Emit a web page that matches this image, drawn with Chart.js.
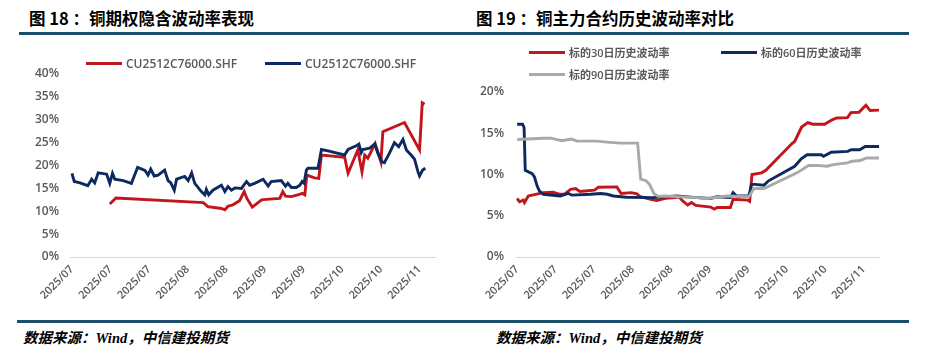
<!DOCTYPE html>
<html>
<head>
<meta charset="utf-8">
<script src="https://cdn.jsdelivr.net/npm/chart.js@4.4.0/dist/chart.umd.min.js"></script>
<style>
    body { margin: 0; width: 928px; height: 359px; background: #fff; position: relative; overflow: hidden; }
    .title { position: absolute; top: 7px; font: bold 16.5px "Noto Sans CJK SC", sans-serif; color: #000; white-space: pre; line-height: 22px; }
    .rule { position: absolute; height: 3px; background: #1d4f6e; }
    .source { position: absolute; top: 327px; font: italic bold 14.5px "Noto Sans CJK SC", sans-serif; color: #000; white-space: nowrap; line-height: 20px; }
    .source .en { font-family: "Liberation Serif", serif; }
    canvas { position: absolute; top: 0; }
    .legend { position: absolute; display: grid; font: 600 12px "Open Sans", "Noto Sans CJK SC", sans-serif; color: #595959; z-index: 2; }
    .legend .item { display: flex; align-items: center; white-space: nowrap; height: 22px; }
    .legend .swatch { display: inline-block; width: 36px; height: 3px; margin-right: 4px; }
</style>
</head>
<body>
<div class="title" style="left:29px">图 18 ：铜期权隐含波动率表现</div>
<div class="title" style="left:476px">图 19 ：铜主力合约历史波动率对比</div>
<div class="rule" style="left:19px;width:445px;top:32px"></div>
<div class="rule" style="left:464px;width:445px;top:32px"></div>

<canvas id="iv-chart" width="464" height="318" style="left:0"></canvas>
<canvas id="hv-chart" width="464" height="318" style="left:464px"></canvas>
<div id="iv-legend" class="legend" style="left:86px;top:52px;grid-template-columns:179px auto"></div>
<div id="hv-legend" class="legend" style="left:529px;top:41px;grid-template-columns:192px auto;font-size:11px"></div>

<div class="rule" style="left:17px;width:447px;top:320px"></div>
<div class="rule" style="left:464px;width:445px;top:320px"></div>
<div class="source" style="left:23px">数据来源：<span class="en">Wind</span>，中信建投期货</div>
<div class="source" style="left:496px">数据来源：<span class="en">Wind</span>，中信建投期货</div>

<script>
const tickLabels = ['2025/07', '2025/07', '2025/07', '2025/08', '2025/08', '2025/09', '2025/09', '2025/10', '2025/10', '2025/11'];

// 图18 implied volatility (%), x = trading day index
const ivRedLabel = 'CU2512C76000.SHF';
const ivRedDays = [9.8, 11.4, 34.0, 35.2, 38.7, 39.6, 40.4, 41.7, 43.4, 44.6, 45.3, 46.7, 49.1, 50.3, 53.8, 54.6, 55.3, 56.8, 58.5, 59.7, 60.3, 60.8, 62.8, 63.9, 64.6, 70.6, 71.5, 74.0, 75.1, 75.8, 76.6, 78.5, 80.0, 80.5, 86.1, 90.0, 90.7, 91.3];
const ivRedVals = [11.6, 12.9, 11.9, 11.0, 10.6, 10.3, 11.1, 11.4, 12.3, 14.3, 12.8, 10.9, 12.5, 12.6, 12.8, 14.3, 13.3, 13.2, 13.6, 13.9, 13.6, 17.9, 17.3, 17.2, 22.3, 21.8, 18.3, 23.4, 18.6, 22.3, 21.6, 24.8, 20.8, 27.4, 29.4, 23.4, 33.7, 33.4];

const ivBlueLabel = 'CU2512C76000.SHF';
const ivBlueDays = [0, 0.6, 2.1, 4.1, 5.1, 5.9, 6.8, 9.0, 9.8, 10.5, 11.1, 13.3, 15.4, 17.0, 18.9, 19.7, 20.4, 21.3, 22.3, 24.0, 24.9, 25.6, 26.5, 27.1, 29.2, 30.1, 31.0, 31.8, 33.5, 34.4, 34.8, 35.4, 36.5, 38.7, 39.6, 40.4, 41.3, 42.2, 43.9, 45.2, 46.0, 47.3, 49.5, 50.8, 51.6, 54.2, 55.3, 55.9, 56.8, 58.1, 59.0, 59.6, 60.1, 60.7, 61.1, 63.7, 64.6, 66.3, 70.6, 71.5, 73.6, 74.3, 74.9, 75.3, 77.1, 78.4, 79.2, 80.3, 80.9, 82.2, 83.5, 84.6, 85.7, 86.6, 87.8, 88.7, 89.6, 90.0, 90.8, 91.5];
const ivBlueVals = [18.3, 16.5, 16.2, 15.6, 17.0, 16.2, 18.4, 18.1, 16.1, 18.3, 17.0, 16.7, 16.1, 19.6, 18.9, 17.9, 19.2, 17.7, 17.9, 19.0, 16.7, 16.2, 14.6, 17.0, 17.6, 16.7, 18.4, 16.1, 14.3, 13.6, 14.8, 13.6, 14.6, 15.7, 14.3, 15.4, 14.6, 15.1, 15.0, 16.5, 15.7, 16.1, 17.0, 15.5, 16.5, 16.7, 15.5, 16.1, 15.2, 15.2, 15.7, 16.5, 16.1, 19.0, 19.4, 19.4, 23.5, 23.2, 22.3, 23.5, 24.3, 24.7, 22.8, 23.5, 23.8, 24.7, 22.7, 20.8, 20.6, 22.7, 25.0, 24.1, 25.7, 23.4, 22.3, 21.4, 18.6, 17.7, 19.0, 19.4];

// 图19 historical volatility (%)
const hv30Label = '标的30日历史波动率';
const hv30Days = [0, 0.6, 1.6, 1.9, 2.9, 4.8, 6.8, 9.3, 11.2, 12.2, 13.9, 15.2, 16.3, 20.1, 21.1, 25.9, 27.0, 29.6, 31.1, 32.0, 35.0, 36.3, 38.5, 41.1, 42.0, 43.0, 44.3, 45.3, 46.4, 50.3, 51.2, 52.0, 55.4, 56.1, 59.8, 60.4, 61.0, 63.5, 64.6, 71.4, 72.1, 73.9, 75.5, 76.8, 79.9, 81.7, 83.0, 85.8, 86.7, 88.8, 90.6, 91.7, 94.0];
const hv30Vals = [7.1, 6.7, 6.9, 6.6, 7.4, 7.6, 7.8, 7.85, 7.6, 7.6, 8.2, 8.3, 7.95, 8.1, 8.45, 8.5, 7.7, 7.8, 7.65, 7.3, 6.95, 6.85, 7.1, 7.2, 7.3, 6.8, 6.3, 6.6, 6.25, 6.05, 5.8, 6.0, 6.0, 7.0, 6.9, 6.75, 10.0, 10.2, 10.5, 13.75, 14.0, 15.75, 16.3, 16.1, 16.1, 16.6, 16.85, 16.9, 17.5, 17.55, 18.4, 17.75, 17.8];

const hv60Label = '标的60日历史波动率';
const hv60Days = [0, 1.4, 1.8, 2.1, 3.9, 4.5, 5.2, 5.8, 6.8, 11.2, 13.3, 14.2, 19.1, 21.7, 23.4, 25.0, 28.4, 35.3, 41.4, 46.8, 50.2, 51.9, 55.4, 56.1, 57.0, 60.2, 60.9, 61.7, 64.1, 65.2, 72.1, 73.8, 75.3, 79.0, 79.6, 81.6, 85.9, 86.8, 89.0, 90.4, 94.0];
const hv60Vals = [16.1, 16.1, 15.7, 10.5, 10.1, 9.7, 8.6, 8.0, 7.6, 7.4, 7.7, 7.5, 7.6, 7.7, 7.6, 7.4, 7.25, 7.2, 7.4, 7.2, 7.1, 7.3, 7.2, 7.8, 7.4, 7.4, 8.8, 8.8, 8.7, 9.2, 11.0, 11.9, 12.4, 12.4, 12.2, 12.7, 12.8, 13.0, 13.0, 13.4, 13.4];

const hv90Label = '标的90日历史波动率';
const hv90Days = [0, 6.8, 8.8, 11.5, 14.1, 15.6, 20.8, 24.1, 26.8, 31.3, 32.1, 33.5, 34.4, 35.5, 36.6, 38.1, 46.7, 49.4, 54.5, 60.2, 61.5, 64.1, 72.7, 75.7, 77.9, 80.5, 82.2, 85.7, 87.0, 89.1, 90.8, 94.0];
const hv90Vals = [14.25, 14.4, 14.4, 14.1, 14.3, 14.05, 14.05, 13.9, 13.8, 13.8, 9.45, 9.25, 8.8, 7.7, 7.35, 7.4, 7.2, 7.1, 7.4, 7.3, 8.3, 8.3, 10.2, 11.1, 11.1, 11.0, 11.2, 11.4, 11.6, 11.7, 12.0, 12.0];

const RED = '#c3161c';
const NAVY = '#0c2a5e';
const GRAY = '#a9a9a9';
const AXIS_TEXT = '#595959';

function toPoints(days, vals) {
    return days.map((day, i) => ({ x: day, y: vals[i] }));
}

function lineDataset(label, days, vals, color, order) {
    return {
        label,
        data: toPoints(days, vals),
        borderColor: color,
        backgroundColor: color,
        borderWidth: 2.9,
        pointRadius: 0,
        tension: 0,
        order
    };
}

function renderLegend(id, datasets) {
    const el = document.getElementById(id);
    el.innerHTML = datasets.map(ds => `
        <div class="item"><span class="swatch" style="background:${ds.borderColor}"></span>${ds.label}</div>
    `).join('');
}

function makeChart(canvasId, datasets, yMax, box) {
    const ctx = document.getElementById(canvasId).getContext('2d');
    return new Chart(ctx, {
        type: 'line',
        data: { datasets },
        options: {
            responsive: false,
            animation: false,
            events: [],
            layout: { padding: { left: 0, top: box.top, right: box.right, bottom: 0 } },
            plugins: { legend: { display: false }, tooltip: { enabled: false } },
            scales: {
                x: {
                    type: 'linear',
                    min: box.xMin,
                    max: 94,
                    afterFit: scale => { scale.height = 318 - 257; },
                    grid: { display: false, drawTicks: false },
                    border: { display: true, color: '#d9d9d9', width: 1 },
                    ticks: {
                        stepSize: 10,
                        includeBounds: false,
                        autoSkip: false,
                        minRotation: 45,
                        maxRotation: 45,
                        padding: 6,
                        color: AXIS_TEXT,
                        font: { family: 'Open Sans', weight: '600', size: 11 },
                        callback: value => tickLabels[Math.round(value / 10)] || ''
                    }
                },
                y: {
                    min: 0,
                    max: yMax,
                    afterFit: scale => { scale.width = box.left; },
                    grid: { display: false, drawTicks: false },
                    border: { display: false },
                    ticks: {
                        stepSize: 5,
                        padding: box.labelGap,
                        color: AXIS_TEXT,
                        font: { family: 'Open Sans', weight: '600', size: 12 },
                        callback: value => `${value}%`
                    }
                }
            }
        }
    });
}

const ivDatasets = [
    lineDataset(ivRedLabel, ivRedDays, ivRedVals, RED, 2),
    lineDataset(ivBlueLabel, ivBlueDays, ivBlueVals, NAVY, 1)
];
const hvDatasets = [
    lineDataset(hv30Label, hv30Days, hv30Vals, RED, 3),
    lineDataset(hv60Label, hv60Days, hv60Vals, NAVY, 2),
    lineDataset(hv90Label, hv90Days, hv90Vals, GRAY, 1)
];

makeChart('iv-chart', ivDatasets, 40, { top: 74, right: 29, left: 70, labelGap: 11, xMin: -0.5 });
makeChart('hv-chart', hvDatasets, 20, { top: 92, right: 49, left: 52, labelGap: 12, xMin: -0.3 });

renderLegend('iv-legend', ivDatasets);
renderLegend('hv-legend', hvDatasets);
</script>
</body>
</html>
